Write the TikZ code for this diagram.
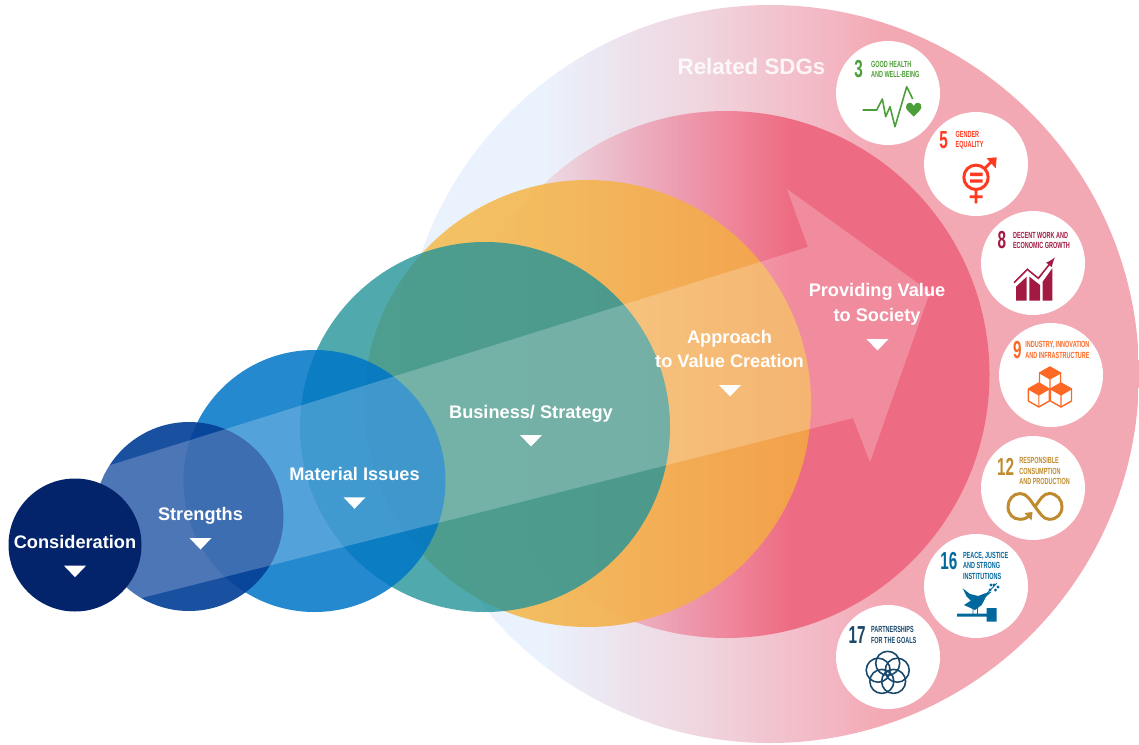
\documentclass[tikz,border=0pt]{standalone}
\usepackage{fontspec}
\setmainfont{Liberation Sans}
\newfontfamily\sdgfont[FakeStretch=0.62]{Liberation Sans}
\usepackage{tikz}
\usetikzlibrary{arrows,shapes,positioning}
\definecolor{sdgthree}{HTML}{4C9F38}
\definecolor{sdgfive}{HTML}{FF3A21}
\definecolor{sdgeight}{HTML}{A21942}
\definecolor{sdgnine}{HTML}{FD6925}
\definecolor{sdgtwelve}{HTML}{BF8B2E}
\definecolor{sdgsixteen}{HTML}{00689D}
\definecolor{sdgseventeen}{HTML}{19486A}
\definecolor{approachleft}{HTML}{F4C45E}
\definecolor{approachright}{HTML}{F4A547}
\definecolor{businesscol}{RGB}{39,149,153}
\definecolor{materialcol}{RGB}{0,118,198}
\definecolor{strengthscol}{RGB}{6,65,152}
\definecolor{considercol}{RGB}{3,36,107}
\pgfdeclarehorizontalshading{relatedband}{100bp}{
  rgb(0bp)=(.918,.953,.992); rgb(34.4bp)=(.918,.953,.992); rgb(38.5bp)=(.925,.906,.949);
  rgb(45.3bp)=(.941,.835,.871); rgb(54.7bp)=(.953,.706,.753); rgb(57.5bp)=(.953,.663,.706);
  rgb(100bp)=(.953,.663,.706)}
\pgfdeclarehorizontalshading{valueband}{100bp}{
  rgb(0bp)=(.925,.847,.886); rgb(33.3bp)=(.925,.847,.886); rgb(41.8bp)=(.925,.682,.749);
  rgb(49.4bp)=(.937,.541,.627); rgb(56bp)=(.933,.424,.514); rgb(100bp)=(.933,.424,.514)}
\tikzset{
  stagelabel/.style={text=white,align=center,font=\bfseries\fontsize{10.35}{14.2}\selectfont},
  sdgtext/.style={anchor=west,align=left,font=\sdgfont\bfseries\fontsize{5.05}{6}\selectfont},
  sdgnum/.style={anchor=west,font=\sdgfont\bfseries\fontsize{14}{14}\selectfont},
}
\newcommand{\stagemark}[2]{\fill [white] (#1-1.1,#2) -- (#1+1.1,#2) -- (#1,#2-1.15) -- cycle;}
\newcommand{\sdgcube}[2]{
  \draw [sdgnine, line width=0.8pt, line join=round, fill=white] (#1,#2+1.2) -- (#1+1.05,#2+0.6) -- (#1+1.05,#2-0.6) -- (#1,#2-1.2) -- (#1-1.05,#2-0.6) -- (#1-1.05,#2+0.6) -- cycle;
  \draw [sdgnine, line width=0.6pt] (#1-1.05,#2+0.6) -- (#1,#2) -- (#1+1.05,#2+0.6) (#1,#2) -- (#1,#2-1.2);
  \fill [sdgnine] (#1,#2+1.2) -- (#1+1.05,#2+0.6) -- (#1,#2) -- (#1-1.05,#2+0.6) -- cycle;
}
\begin{document}
\begin{tikzpicture}[scale=0.2]
                \tikzstyle{every node}+=[inner sep=0pt]
                \useasboundingbox (0,0) rectangle (113.9,-74.4);
                \shade [shading=relatedband] (77,-37.4) circle (36.9);
                \shade [shading=valueband] (72.6,-37.45) circle (26.35);
                \shade [left color=approachleft, right color=approachright, opacity=0.93] (58.75,-40.35) circle (22.35);
                \fill [businesscol, opacity=0.81] (48.5,-42.7) circle (18.5);
                \fill [materialcol, opacity=0.86] (31.45,-48.1) circle (13.1);
                \fill [strengthscol, opacity=0.92] (18.9,-51.65) circle (9.45);
                \fill [white, opacity=0.22] (8.5,-47.3) -- (80.8,-24.7) -- (78.7,-18.9) -- (93,-29.2) -- (87,-46.2) -- (85.3,-41.8) -- (9,-61.1) -- cycle;
                \fill [considercol] (7.5,-54.5) circle (6.65);
                \draw (7.5,-54.2) node (consideration) [stagelabel] {Consideration};
                \stagemark{7.5}{-56.57}
                \draw (20.05,-51.55) node (strengths) [stagelabel] {Strengths};
                \stagemark{20.05}{-53.8}
                \draw (35.45,-47.4) node (material) [stagelabel] {Material Issues};
                \stagemark{35.45}{-49.73}
                \draw (53.1,-41.35) node (business) [stagelabel] {Business/ Strategy};
                \stagemark{53.1}{-43.5}
                \draw (72.95,-34.9) node (approach) [stagelabel] {Approach\\to Value Creation};
                \stagemark{73}{-38.5}
                \draw (87.7,-30.4) node (providing) [stagelabel] {Providing Value\\to Society};
                \stagemark{87.75}{-33.9}
                \draw (75.15,-6.7) node (related) [text=white, opacity=0.85, font=\bfseries\fontsize{12.7}{14}\selectfont] {Related SDGs};
                \foreach \cx/\cy in {88.8/-9.3, 97.6/-16.4, 103.3/-26.3, 105.1/-37.5, 103.3/-48.8, 97.6/-58.6, 88.8/-65.7}
                    \fill [white] (\cx,\cy) circle (5.2);
                \draw (85.4,-6.9) node (numthree) [sdgnum, text=sdgthree] {3};
                \draw (87.07,-6.95) node (textthree) [sdgtext, text=sdgthree] {GOOD HEALTH\\AND WELL-BEING};
                \draw [sdgthree, line width=0.9pt, line join=round] (86.27,-11) -- (87.67,-11) -- (88.23,-9.9) -- (88.57,-11.67) -- (89,-10.67) -- (89.5,-12.67) -- (90.67,-8.67) -- (91.27,-9.9);
                \fill [sdgthree] (91.37,-11.67) .. controls (90.9,-11.2) and (90.6,-10.9) .. (90.6,-10.75) .. controls (90.55,-10.2) and (91.2,-10.1) .. (91.37,-10.6) .. controls (91.55,-10.1) and (92.2,-10.2) .. (92.13,-10.75) .. controls (92.13,-10.9) and (91.85,-11.2) .. (91.37,-11.67) -- cycle;
                \draw (93.9,-14) node (numfive) [sdgnum, text=sdgfive] {5};
                \draw (95.53,-14.03) node (textfive) [sdgtext, text=sdgfive] {GENDER\\EQUALITY};
                \draw [sdgfive, line width=1.7pt] (97.6,-17.73) circle (1.22);
                \draw [sdgfive, line width=1.6pt] (97.6,-19) -- (97.6,-20.33) (96.95,-19.67) -- (98.27,-19.67) (98.45,-16.85) -- (99.45,-15.85);
                \fill [sdgfive] (98.67,-15.83) -- (99.67,-15.73) -- (99.57,-16.83) -- cycle;
                \fill [sdgfive] (97,-17.27) rectangle (98.27,-17.6) (97,-17.93) rectangle (98.27,-18.27);
                \draw (99.73,-24) node (numeight) [sdgnum, text=sdgeight] {8};
                \draw (101.27,-24.03) node (texteight) [sdgtext, text=sdgeight] {DECENT WORK AND\\ECONOMIC GROWTH};
                \fill [sdgeight] (101.6,-30.07) -- (101.6,-28.67) -- (102.67,-27.67) -- (102.67,-30.07) -- cycle;
                \fill [sdgeight] (102.93,-30.07) -- (102.93,-27.67) -- (104,-28.5) -- (104,-30.07) -- cycle;
                \fill [sdgeight] (104.27,-30.07) -- (104.27,-28.17) -- (105.23,-26.83) -- (105.23,-30.07) -- cycle;
                \draw [sdgeight, line width=0.9pt, -latex] (101.4,-28.27) -- (102.73,-26.93) -- (103.83,-27.83) -- (105.5,-25.73);
                \draw (101.27,-35.05) node (numnine) [sdgnum, text=sdgnine] {9};
                \draw (102.5,-35) node (textnine) [sdgtext, text=sdgnine] {INDUSTRY, INNOVATION\\AND INFRASTRUCTURE};
                \sdgcube{105}{-37.9}
                \sdgcube{103.88}{-39.5}
                \sdgcube{106.1}{-39.5}
                \draw (99.67,-46.7) node (numtwelve) [sdgnum, text=sdgtwelve] {12};
                \draw (101.9,-47.1) node (texttwelve) [sdgtext, text=sdgtwelve] {RESPONSIBLE\\CONSUMPTION\\AND PRODUCTION};
                \draw [sdgtwelve, line width=1.7pt] (103.5,-50.67) .. controls (104,-50) and (104.3,-49.35) .. (104.93,-49.35) .. controls (105.7,-49.35) and (106.2,-50) .. (106.2,-50.67) .. controls (106.2,-51.4) and (105.7,-51.93) .. (104.93,-51.93) .. controls (104.3,-51.93) and (104,-51.3) .. (103.5,-50.67) .. controls (103,-50) and (102.7,-49.35) .. (102,-49.35) .. controls (101.3,-49.35) and (100.8,-50) .. (100.8,-50.67) .. controls (100.8,-51.4) and (101.3,-51.93) .. (102,-51.93) .. controls (102.4,-51.93) and (102.7,-51.8) .. (102.9,-51.6);
                \fill [sdgtwelve] (103.25,-51.2) -- (102.45,-51.3) -- (103.15,-52.05) -- cycle;
                \draw (94,-56.07) node (numsixteen) [sdgnum, text=sdgsixteen] {16};
                \draw (96.27,-56.58) node (textsixteen) [sdgtext, text=sdgsixteen] {PEACE, JUSTICE\\AND STRONG\\INSTITUTIONS};
                \fill [sdgsixteen] (96.27,-58.83) -- (97,-59.4) -- (97.83,-59.6) -- (98.5,-59.33) -- (99.17,-59.17) -- (98.6,-59.67) -- (98.17,-60.5) -- (97.5,-61) -- (96.4,-60.5) -- (97.07,-60.07) -- (96.67,-59.67) -- cycle;
                \fill [sdgsixteen] (95.7,-61.37) rectangle (98.7,-61.65) (98.67,-60.8) rectangle (99.67,-62.17);
                \draw [sdgsixteen, line width=0.5pt] (97.3,-60.9) -- (97.3,-61.4) (97.75,-60.8) -- (97.75,-61.4) (98.7,-59.33) -- (99.67,-58.33);
                \foreach \lx/\ly in {99/-59, 99.4/-58.5, 99.55/-59, 99.1/-58.5, 99.8/-58.7}
                    \fill [sdgsixteen] (\lx,\ly) circle (0.17);
                \draw (84.83,-63.47) node (numseventeen) [sdgnum, text=sdgseventeen] {17};
                \draw (87.07,-63.47) node (textseventeen) [sdgtext, text=sdgseventeen] {PARTNERSHIPS\\FOR THE GOALS};
                \foreach \petal in {90,162,234,306,18}
                    \draw [sdgseventeen, line width=0.9pt] (88.77,-67.33) ++(\petal:1) circle (1.2);
\end{tikzpicture}
\end{document}
